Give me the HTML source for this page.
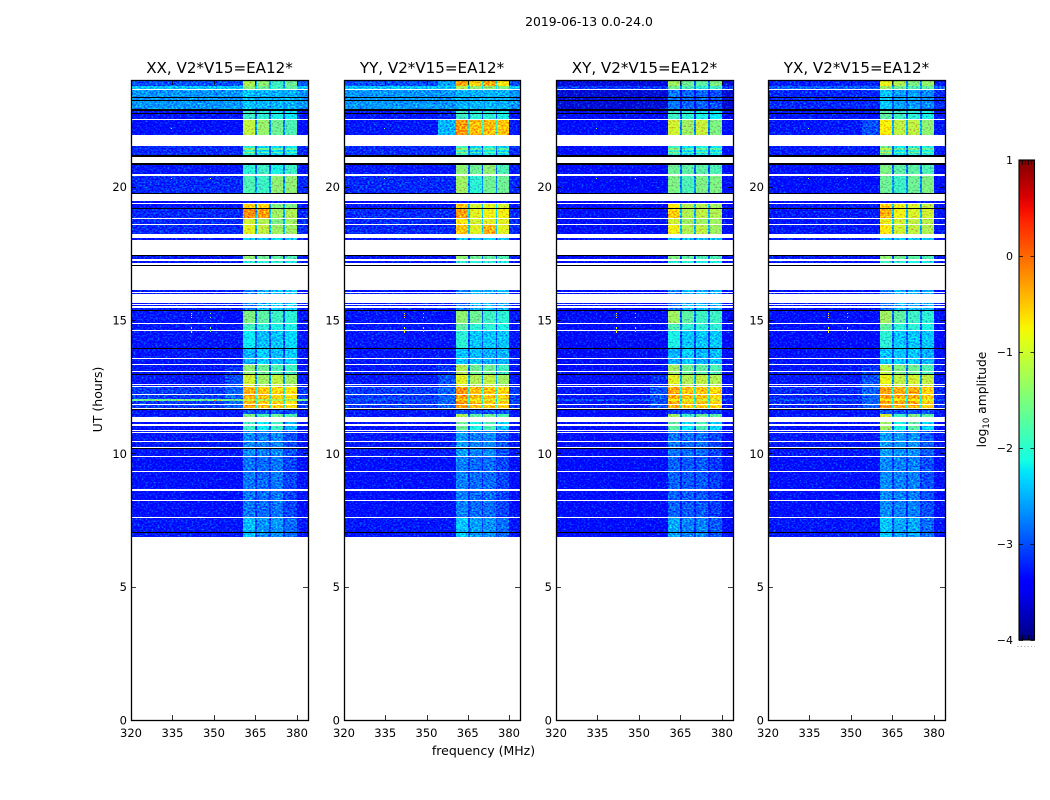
<!DOCTYPE html>
<html>
<head>
<meta charset="utf-8">
<title>2019-06-13 waterfall</title>
<style>
html,body{margin:0;padding:0;background:#fff;}
svg{display:block;}
text{font-family:"DejaVu Sans","Liberation Sans",sans-serif;fill:#000;}
</style>
</head>
<body>
<svg id="figure" xmlns="http://www.w3.org/2000/svg" width="1050" height="800" viewBox="0 0 1050 800">
  <defs>
    <filter id="speckle" filterUnits="userSpaceOnUse" x="0" y="0" width="1050" height="800" color-interpolation-filters="sRGB">
      <feTurbulence type="fractalNoise" baseFrequency="0.5 0.62" numOctaves="2" seed="7" result="raw"/>
      <feColorMatrix in="raw" type="matrix" values="0.1 0 0 0 0.45  1.35 0 0 0 -0.175  0.1 0 0 0 0.47  0 0 0 0 1" result="noise"/>
      <feComposite in="SourceGraphic" in2="noise" operator="arithmetic" k1="0" k2="1" k3="1" k4="-0.5" result="mixed"/>
      <feComposite in="mixed" in2="SourceAlpha" operator="in"/>
    </filter>
    <linearGradient id="jet-gradient" x1="0" y1="1" x2="0" y2="0"></linearGradient>
  </defs>
  <text x="589" y="26" font-size="12.4" text-anchor="middle">2019-06-13 0.0-24.0</text>
  <text x="483.5" y="755" font-size="12.5" text-anchor="middle">frequency (MHz)</text>
  <text transform="translate(102,399.5) rotate(-90)" font-size="12.5" text-anchor="middle">UT (hours)</text>
  <text transform="translate(986,399.5) rotate(-90)" font-size="12.3" text-anchor="middle">log<tspan font-size="8.5" dy="3">10</tspan><tspan dy="-3"> amplitude</tspan></text>
  <g id="panels"></g>
  <g id="colorbar"></g>
</svg>
<script>
// ---------- chart data ----------
const panelTitles = ["XX, V2*V15=EA12*", "YY, V2*V15=EA12*", "XY, V2*V15=EA12*", "YX, V2*V15=EA12*"];
const xTicks = [320, 335, 350, 365, 380];
const yTicks = [0, 5, 10, 15, 20];
const colorTicks = [-4, -3, -2, -1, 0, 1];
const freqRange = [320, 384];
const hourRange = [0, 24];
const colorRange = [-4, 1];

// frequency segments (MHz)
const bandStart = [360.6, 365.7, 370.7, 375.8];
const bandEnd = [365.0, 370.0, 375.1, 380.0];
const rampStart = 354;

// time rows, top to bottom (UT hours). Profile -1 = flagged (blank), -2 = black line
const rowEdges = [24.00,23.775,23.67,23.625,23.37,23.34,23.24,23.20,22.92,22.83,22.77,22.75,22.69,22.59,22.56,22.53,22.50,21.94,21.53,21.46,21.38,21.31,21.26,21.18,21.10,20.88,20.81,20.48,20.40,19.75,19.73,19.46,19.38,19.34,19.21,19.17,19.15,18.83,18.79,18.60,18.56,18.24,18.06,18.00,17.44,17.40,17.29,17.22,17.14,17.07,17.05,16.13,16.06,16.01,15.99,15.64,15.60,15.56,15.51,15.45,15.375,15.34,14.88,14.84,14.625,14.59,13.94,13.90,13.56,13.53,13.35,13.30,13.09,13.05,12.975,12.94,12.61,12.56,12.51,12.48,12.225,12.19,12.04,11.96,11.85,11.81,11.71,11.67,11.65,11.475,11.37,11.175,11.10,11.025,10.875,10.84,10.80,10.76,10.45,10.41,10.24,10.20,10.16,9.90,9.86,9.34,9.30,8.66,8.59,8.25,8.21,7.61,7.575,7.05,7.01,6.85];
const rowProfile = [0,1,-1,2,-2,2,-2,2,-2,3,-2,3,3,-1,3,-1,4,-1,5,31,5,31,5,-2,-1,-2,6,-1,7,-2,-1,8,-1,9,-2,-1,10,-1,11,-1,12,-1,13,-1,-2,14,-1,15,-1,-2,-1,16,-1,16,-1,16,-1,16,-1,16,-2,17,-1,18,-1,19,-2,20,-1,20,-1,21,-1,21,-2,22,-1,22,-1,23,-1,23,24,23,-1,23,-1,-2,25,26,-1,27,-1,27,-1,28,-1,28,-1,28,-1,-2,28,-1,29,-1,29,-1,29,-1,29,-1,30,-2,30];

// log10 amplitude per profile: background, ramp, band 1-4, gap
const xxLevels = [
[-3.0,-3.0,-1.2,-1.4,-1.9,-1.6,-2.6],[-2.4,-2.4,-1.4,-1.6,-1.9,-1.7,-2.4],[-2.65,-2.65,-2.4,-2.5,-2.5,-2.5,-2.6],[-3.3,-3.3,-1.9,-2.0,-2.1,-2.2,-3.0],
[-3.35,-3.35,-1.1,-1.35,-1.6,-1.8,-2.7],[-3.2,-3.2,-2.0,-2.3,-2.3,-2.2,-3.0],[-3.3,-3.3,-2.0,-1.9,-2.1,-1.9,-2.9],[-3.2,-3.2,-1.8,-1.9,-1.4,-1.4,-2.7],
[-3.4,-3.4,-3.3,-3.3,-3.3,-3.3,-3.4],[-3.3,-3.3,-0.6,-0.6,-1.5,-1.5,-2.6],[-3.2,-3.2,-0.2,-0.3,-1.3,-1.2,-2.5],[-3.2,-3.2,-1.0,-1.2,-1.5,-1.3,-2.5],
[-3.2,-3.2,-0.9,-1.1,-1.3,-1.3,-2.5],[-3.3,-3.3,-2.4,-2.4,-2.4,-2.4,-3.0],[-3.3,-3.3,-1.4,-1.6,-1.7,-1.8,-3.0],[-3.3,-3.3,-2.0,-2.0,-2.0,-2.1,-3.0],
[-3.3,-3.3,-2.8,-2.5,-2.4,-2.4,-3.0],[-3.3,-3.4,-1.5,-1.7,-1.9,-2.0,-2.9],[-3.3,-3.3,-1.9,-2.0,-2.1,-2.1,-2.9],[-3.3,-3.3,-2.2,-2.45,-2.4,-2.3,-3.0],
[-3.3,-3.3,-2.5,-2.35,-2.45,-2.35,-3.0],[-3.3,-3.15,-1.4,-1.6,-1.8,-1.9,-2.9],[-3.3,-3.0,-1.0,-1.3,-1.1,-1.3,-2.6],[-3.1,-2.9,-0.4,-0.5,-0.6,-0.7,-2.1],
[-1.6,-1.6,-1.0,-1.2,-1.2,-1.3,-1.6],[-3.3,-3.3,-3.0,-3.0,-3.0,-3.0,-3.3],[-3.3,-3.3,-1.5,-1.8,-1.6,-1.8,-2.8],[-3.35,-3.35,-1.9,-2.2,-1.9,-2.5,-3.0],
[-3.3,-3.3,-2.7,-2.75,-2.7,-3.0,-3.1],[-3.35,-3.35,-2.8,-2.85,-2.8,-3.05,-3.15],[-3.3,-3.3,-2.45,-2.65,-2.65,-2.85,-3.05],[-3.2,-3.2,-1.35,-1.6,-1.6,-1.7,-2.8]];
const yyLevels = [
[-3.0,-2.6,-0.35,-0.6,-0.35,-0.7,-2.0],[-2.4,-2.4,-1.2,-1.4,-1.4,-1.5,-2.3],[-2.65,-2.65,-2.5,-2.5,-2.5,-2.5,-2.6],[-3.3,-3.2,-1.9,-2.0,-2.0,-2.1,-3.0],
[-3.3,-2.5,-0.25,-0.45,-0.45,-0.5,-1.9],[-3.2,-3.2,-1.9,-2.4,-2.1,-2.3,-3.0],[-3.3,-3.3,-1.4,-1.6,-1.4,-1.8,-2.9],[-3.2,-3.2,-1.3,-2.0,-1.6,-1.6,-2.7],
[-3.4,-3.4,-3.3,-3.3,-3.3,-3.3,-3.4],[-3.3,-3.3,-0.45,-1.0,-0.9,-1.0,-2.4],[-3.2,-3.2,-0.3,-0.9,-0.8,-0.8,-2.3],[-3.2,-3.2,-0.7,-1.0,-0.9,-0.9,-2.4],
[-3.2,-3.2,-0.5,-0.9,-0.4,-0.9,-2.3],[-3.3,-3.3,-2.4,-2.4,-2.4,-2.4,-3.0],[-3.3,-3.3,-1.4,-1.6,-1.7,-1.8,-3.0],[-3.3,-3.3,-2.0,-2.0,-2.0,-2.1,-3.0],
[-3.3,-3.3,-2.8,-2.5,-2.5,-2.5,-3.0],[-3.3,-3.4,-1.4,-1.6,-1.9,-2.0,-2.9],[-3.3,-3.3,-1.7,-2.0,-2.0,-2.1,-2.9],[-3.3,-3.3,-2.0,-2.4,-2.4,-2.4,-3.0],
[-3.3,-3.3,-2.4,-2.45,-2.5,-2.5,-3.0],[-3.3,-3.15,-1.2,-1.6,-1.6,-1.9,-2.9],[-3.3,-3.0,-0.9,-1.2,-1.1,-1.3,-2.6],[-3.1,-2.9,-0.25,-0.45,-0.5,-0.6,-2.0],
[-3.0,-2.9,-0.6,-0.8,-0.9,-1.0,-2.2],[-3.3,-3.3,-3.0,-3.0,-3.0,-3.0,-3.3],[-3.3,-3.3,-1.2,-1.7,-1.6,-1.8,-2.8],[-3.35,-3.35,-1.6,-2.1,-1.8,-2.4,-3.0],
[-3.3,-3.3,-2.6,-2.75,-2.7,-3.0,-3.1],[-3.35,-3.35,-2.75,-2.85,-2.85,-3.05,-3.15],[-3.3,-3.3,-2.4,-2.6,-2.65,-2.85,-3.05],[-3.2,-3.2,-1.35,-1.7,-1.6,-1.7,-2.8]];
const xyLevels = [
[-3.6,-3.6,-1.3,-1.6,-1.7,-1.5,-2.9],[-3.1,-3.1,-1.6,-1.8,-2.0,-1.9,-2.8],[-3.65,-3.65,-2.8,-2.9,-2.9,-3.0,-3.4],[-3.5,-3.5,-1.9,-2.0,-2.1,-2.2,-3.1],
[-3.4,-3.4,-1.0,-1.3,-1.05,-1.5,-2.7],[-3.4,-3.4,-1.9,-2.3,-2.1,-2.2,-3.0],[-3.45,-3.45,-1.6,-1.7,-1.7,-1.8,-2.9],[-3.4,-3.4,-1.5,-1.8,-1.5,-1.5,-2.7],
[-3.5,-3.5,-3.4,-3.4,-3.4,-3.4,-3.5],[-3.4,-3.4,-0.7,-1.2,-1.2,-1.3,-2.5],[-3.35,-3.35,-0.55,-1.2,-1.1,-1.2,-2.5],[-3.35,-3.35,-1.0,-1.3,-1.3,-1.3,-2.5],
[-3.35,-3.35,-0.8,-1.2,-1.1,-1.3,-2.5],[-3.4,-3.4,-2.4,-2.4,-2.4,-2.4,-3.0],[-3.4,-3.4,-1.5,-1.7,-1.8,-1.8,-3.0],[-3.4,-3.4,-2.0,-2.0,-2.1,-2.1,-3.0],
[-3.45,-3.45,-2.8,-2.5,-2.5,-2.5,-3.1],[-3.5,-3.5,-1.3,-1.7,-1.9,-1.9,-2.9],[-3.45,-3.45,-1.8,-2.0,-2.0,-2.0,-2.9],[-3.5,-3.5,-2.1,-2.4,-2.4,-2.4,-3.1],
[-3.5,-3.5,-2.5,-2.35,-2.5,-2.45,-3.1],[-3.45,-3.35,-1.3,-1.6,-1.7,-1.8,-2.9],[-3.4,-3.2,-0.9,-1.2,-1.1,-1.2,-2.6],[-3.3,-3.0,-0.35,-0.5,-0.5,-0.6,-2.1],
[-3.0,-3.0,-0.8,-0.9,-1.0,-1.0,-2.3],[-3.45,-3.45,-3.1,-3.1,-3.1,-3.1,-3.4],[-3.45,-3.45,-1.3,-1.9,-1.6,-1.7,-2.8],[-3.45,-3.45,-1.7,-2.2,-1.8,-2.3,-3.0],
[-3.4,-3.4,-2.8,-2.85,-2.85,-3.05,-3.2],[-3.4,-3.4,-2.9,-2.95,-2.95,-3.1,-3.25],[-3.4,-3.4,-2.55,-2.75,-2.75,-2.95,-3.15],[-3.4,-3.4,-1.4,-1.7,-1.6,-1.7,-2.8]];
const yxLevels = [
[-3.25,-3.25,-0.85,-1.2,-1.5,-1.35,-2.7],[-2.9,-2.9,-1.3,-1.6,-1.8,-1.7,-2.6],[-3.2,-3.2,-2.4,-2.6,-2.6,-2.7,-3.0],[-3.3,-3.3,-1.7,-1.9,-2.0,-2.1,-3.0],
[-3.3,-3.0,-0.75,-1.1,-1.1,-1.4,-2.5],[-3.3,-3.3,-1.6,-2.2,-2.0,-2.1,-3.0],[-3.35,-3.35,-1.5,-1.7,-1.7,-1.8,-2.9],[-3.35,-3.35,-1.6,-1.9,-1.6,-1.5,-2.7],
[-3.4,-3.4,-3.3,-3.3,-3.3,-3.3,-3.4],[-3.3,-3.3,-0.55,-0.85,-0.95,-1.1,-2.5],[-3.3,-3.3,-0.4,-0.8,-0.95,-1.0,-2.5],[-3.3,-3.3,-0.85,-1.0,-1.1,-1.15,-2.5],
[-3.3,-3.3,-0.7,-1.0,-1.1,-1.2,-2.5],[-3.3,-3.3,-2.4,-2.4,-2.4,-2.4,-3.0],[-3.3,-3.3,-1.4,-1.6,-1.7,-1.8,-3.0],[-3.3,-3.3,-1.9,-2.0,-2.1,-2.1,-3.0],
[-3.35,-3.35,-2.8,-2.5,-2.5,-2.5,-3.0],[-3.35,-3.35,-1.3,-1.7,-1.9,-2.0,-2.9],[-3.35,-3.35,-1.7,-2.0,-2.0,-2.1,-2.9],[-3.4,-3.4,-2.0,-2.4,-2.4,-2.4,-3.0],
[-3.35,-3.35,-2.4,-2.4,-2.4,-2.5,-3.0],[-3.3,-3.15,-1.15,-1.5,-1.6,-1.8,-2.9],[-3.3,-3.0,-0.85,-1.1,-1.0,-1.1,-2.6],[-3.2,-2.9,-0.3,-0.35,-0.35,-0.55,-2.1],
[-3.0,-2.9,-0.7,-0.8,-0.8,-0.9,-2.2],[-3.35,-3.35,-3.0,-3.0,-3.0,-3.0,-3.3],[-3.3,-3.3,-1.0,-1.9,-1.5,-1.7,-2.8],[-3.35,-3.35,-1.3,-2.1,-1.7,-2.3,-3.0],
[-3.3,-3.3,-2.6,-2.65,-2.65,-2.95,-3.1],[-3.35,-3.35,-2.7,-2.75,-2.75,-3.0,-3.15],[-3.3,-3.3,-2.4,-2.55,-2.55,-2.85,-3.05],[-3.25,-3.25,-1.1,-1.6,-1.5,-1.6,-2.8]];
const panelLevels = [xxLevels, yyLevels, xyLevels, yxLevels];

// isolated bright samples (interference spikes)
const spikeHours = [15.28,15.2,15.12,14.72,14.62,14.55,15.28,15.12,14.72,14.62,22.2,20.33,20.33,12.0,12.0,12.0,12.0,12.0,12.0,12.0];
const spikeFreqs = [341.7,341.7,341.7,341.7,341.7,341.7,348.6,348.6,348.6,348.6,334.4,348.6,334.4,329,333,337,343,346,350,352];
const spikeLevels = [-0.8,-0.7,-0.8,-0.9,-0.9,-0.8,-1.5,-1.6,-1.5,-1.6,-1.6,-1.0,-1.6,-0.3,-0.2,-0.5,-0.2,-0.3,-0.1,-0.4];

// ---------- layout ----------
const panelLeft = [131, 344, 556, 768];
const panelWidth = [177, 176, 177, 177];
const plotTop = 80, plotBottom = 720;
const SVGNS = "http://www.w3.org/2000/svg";

// ---------- helpers ----------
const jetR = [[0,0],[0.35,0],[0.66,1],[0.89,1],[1,0.5]];
const jetG = [[0,0],[0.125,0],[0.375,1],[0.64,1],[0.91,0],[1,0]];
const jetB = [[0,0.5],[0.11,1],[0.34,1],[0.65,0],[1,0]];
function lerpKnots(k, t){
  for(let i=1;i<k.length;i++){
    if(t<=k[i][0]){ return k[i-1][1]+(k[i][1]-k[i-1][1])*(t-k[i-1][0])/(k[i][0]-k[i-1][0]); }
  }
  return k[k.length-1][1];
}
function jetFrac(t){
  t=Math.max(0,Math.min(1,t));
  return "rgb("+Math.round(255*lerpKnots(jetR,t))+","+Math.round(255*lerpKnots(jetG,t))+","+Math.round(255*lerpKnots(jetB,t))+")";
}
function colorScale(v){ return jetFrac((v-colorRange[0])/(colorRange[1]-colorRange[0])); }
function yScale(h){ return plotBottom-(h-hourRange[0])/(hourRange[1]-hourRange[0])*(plotBottom-plotTop); }
function xScale(p,f){ return panelLeft[p]+(f-freqRange[0])/(freqRange[1]-freqRange[0])*panelWidth[p]; }
function mk(tag, parent, attrs){
  const el=document.createElementNS(SVGNS,tag);
  for(const k in attrs){ el.setAttribute(k,attrs[k]); }
  parent.appendChild(el);
  return el;
}
function cell(parent,x0,x1,y0,y1,fill){
  const el=mk("rect",parent,{x:Math.round(x0),y:Math.round(y0),width:Math.max(1,Math.round(x1)-Math.round(x0)),height:Math.max(1,Math.round(y1)-Math.round(y0)),fill:fill,"shape-rendering":"crispEdges"});
  
  
  return el;
}
function minusText(v){ return v<0 ? "\u2212"+Math.abs(v) : String(v); }

// ---------- panels ----------
const panelsRoot=document.getElementById("panels");
panelTitles.forEach(function(title,p){
  const g=mk("g",panelsRoot,{});
  
  
  const cells=mk("g",g,{filter:"url(#speckle)"});
  
  
  const lines=mk("g",g,{});
  
  
  const levels=panelLevels[p];
  const fL=freqRange[0], fR=freqRange[1];
  rowProfile.forEach(function(prof,r){
    const y0=yScale(rowEdges[r]), y1=yScale(rowEdges[r+1]);
    if(prof===-1){ return; }
    if(prof===-2){ cell(lines,xScale(p,fL),xScale(p,fR),y0,y1,"#000"); return; }
    const lv=levels[prof];
    cell(cells,xScale(p,fL),xScale(p,rampStart),y0,y1,colorScale(lv[0]));
    cell(cells,xScale(p,rampStart),xScale(p,bandStart[0]),y0,y1,colorScale(lv[1]));
    bandStart.forEach(function(bs,b){
      cell(cells,xScale(p,bs),xScale(p,bandEnd[b]),y0,y1,colorScale(lv[2+b]));
      if(b<bandStart.length-1){
        cell(cells,xScale(p,bandEnd[b]),xScale(p,bandStart[b+1]),y0,y1,colorScale(lv[6]));
      }
    });
    cell(cells,xScale(p,bandEnd[3]),xScale(p,fR),y0,y1,colorScale(lv[0]));
  });
  spikeHours.forEach(function(h,i){
    const isLine = h===12.0;
    if(isLine && p!==0){ return; }
    const sx=xScale(p,spikeFreqs[i]), sy=yScale(h);
    const s=cell(g,sx,sx+1.4,sy,sy+1.4,colorScale(spikeLevels[i]+(p===0?0:0.1)));
    
  });

  const x0=panelLeft[p], x1=panelLeft[p]+panelWidth[p];
  const frame=mk("rect",g,{x:x0+0.5,y:plotTop+0.5,width:panelWidth[p],height:plotBottom-plotTop,fill:"none",stroke:"#000","stroke-width":1.3});
  
  

  xTicks.forEach(function(t){
    const x=Math.round(xScale(p,t))+0.5;
    const a=mk("path",g,{d:"M"+x+" "+plotBottom+"v-5M"+x+" "+plotTop+"v5",stroke:"#000","stroke-width":0.8,fill:"none"});
    
    
    const l=mk("text",g,{x:xScale(p,t),y:737,"font-size":"11.5","text-anchor":"middle"});
    
    
    l.textContent=String(t);
  });
  yTicks.forEach(function(t){
    const y=Math.round(yScale(t))+0.5;
    const a=mk("path",g,{d:"M"+x0+" "+y+"h5M"+x1+" "+y+"h-5",stroke:"#000","stroke-width":0.8,fill:"none"});
    
    
    const l=mk("text",g,{x:x0-4,y:yScale(t)+4.5,"font-size":"11.5","text-anchor":"end"});
    
    
    l.textContent=String(t);
  });
  const tt=mk("text",g,{x:(x0+x1)/2,y:73,"font-size":"15.1","text-anchor":"middle"});
  
  
  tt.textContent=title;
});

// ---------- colorbar ----------
(function(){
  const root=document.getElementById("colorbar");
  const grad=document.getElementById("jet-gradient");
  for(let i=0;i<=40;i++){
    mk("stop",grad,{offset:(i/40),"stop-color":jetFrac(i/40)});
  }
  const cbX=1019, cbW=15.5, cbT=160, cbB=640;
  const cbY=function(v){ return cbB-(v-colorRange[0])/(colorRange[1]-colorRange[0])*(cbB-cbT); };
  const bar=mk("rect",root,{x:cbX,y:cbT,width:cbW,height:cbB-cbT,fill:"url(#jet-gradient)",stroke:"#000","stroke-width":1.1});
  
  
  colorTicks.forEach(function(v){
    const y=Math.round(cbY(v))+0.5;
    const t=mk("path",root,{d:"M"+cbX+" "+y+"h4M"+(cbX+cbW)+" "+y+"h-4",stroke:"#000","stroke-width":0.8,fill:"none"});
    
    
    const l=mk("text",root,{x:1013,y:cbY(v)+4,"font-size":"11","text-anchor":"end"});
    
    
    l.textContent=minusText(v);
  });
  [0.2,0.4,0.6,0.8].forEach(function(fr){
    const x=Math.round(cbX+fr*cbW)+0.5;
    const t=mk("path",root,{d:"M"+x+" "+cbT+"v5M"+x+" "+cbB+"v-5",stroke:"#000","stroke-width":0.8,fill:"none"});
    
    
  });
  const dots=mk("line",root,{x1:1017.5,y1:646.5,x2:1035,y2:646.5,stroke:"#999","stroke-width":1,"stroke-dasharray":"1 2.4"});
  
  
})();
</script>
</body>
</html>
